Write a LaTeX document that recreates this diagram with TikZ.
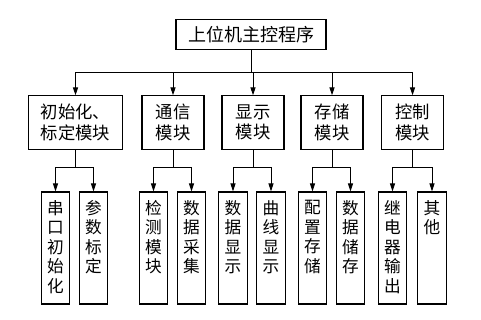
\documentclass[tikz,border=0pt]{standalone}
\usepackage{fontspec}
\newfontfamily\cjk{Noto Sans CJK SC}
\usetikzlibrary{arrows.meta,positioning}

\begin{document}
\begin{tikzpicture}[
    x=0.75pt, y=-0.75pt,
    font=\cjk\fontsize{13}{15.5}\selectfont,
    box/.style={rectangle, draw, line width=0.8pt, inner sep=0pt, align=center},
    mod/.style={box, minimum width=46.5pt, minimum height=40pt},
    leaf/.style={box, minimum width=21.5pt, minimum height=84pt},
    arr/.style={-{Triangle[length=6pt,width=3.8pt]}, line width=0.7pt},
  ]
    \useasboundingbox (0,0) rectangle (481,320);

    % main program
    \node[box, minimum width=112.5pt, minimum height=22pt, font=\cjk\fontsize{13.5}{16}\selectfont] (top) at (251,34.5) {上位机主控程序};

    % modules
    \node[mod, minimum width=70pt] (m1) at (75.5,122.5) {初始化、\\标定模块};
    \node[mod] (m2) at (173,122.5) {通信\\模块};
    \node[mod] (m3) at (253,122.5) {显示\\模块};
    \node[mod] (m4) at (332,122.5) {存储\\模块};
    \node[mod] (m5) at (412.5,122.5) {控制\\模块};

    % leaves, text from the top
    \foreach \n/\x/\t in {a/55.5/串\\口\\初\\始\\化, b/93.5/参\\数\\标\\定,
        c/153.5/检\\测\\模\\块, d/191.5/数\\据\\采\\集,
        e/233/数\\据\\显\\示, f/271/曲\\线\\显\\示,
        g/312.5/配\\置\\存\\储, h/350.5/数\\据\\储\\存,
        i/392.5/继\\电\\器\\输\\出, j/432/其\\他}
      \node[leaf, label={[anchor=north, align=center, inner sep=0pt, yshift=-6.5pt,
          font=\cjk\fontsize{12.5}{14.6}\selectfont]north:\t}] (\n) at (\x,248) {};

    % connectors
    \foreach \m in {m1,m2,m3,m4,m5}
      \draw[arr] (top.south) -- ++(0,23) -| (\m.north);
    \foreach \m/\p/\q in {m1/a/b, m2/c/d, m3/e/f, m4/g/h, m5/i/j} {
      \draw[arr] (\m.south) -- ++(0,18) -| (\p.north);
      \draw[arr] (\m.south) -- ++(0,18) -| (\q.north);
    }
  \end{tikzpicture}
\end{document}
